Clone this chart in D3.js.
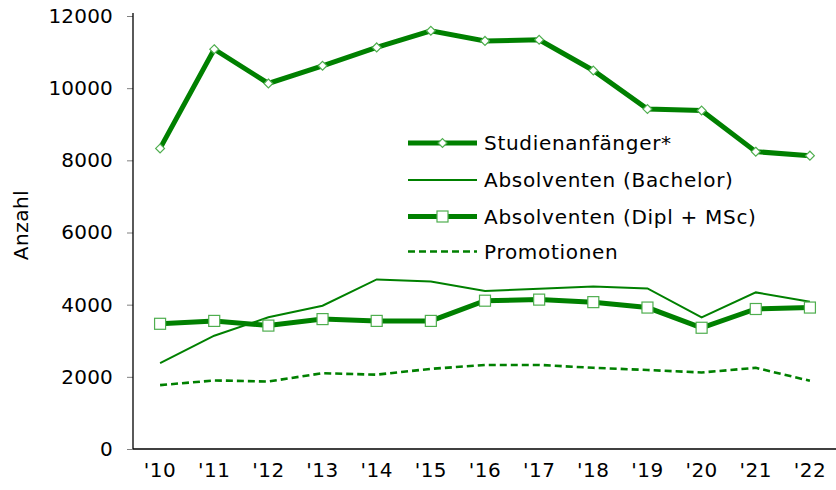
<!DOCTYPE html>
<html><head><meta charset="utf-8">
<script src="https://cdnjs.cloudflare.com/ajax/libs/d3/7.8.5/d3.min.js"></script>
<style>body{margin:0;background:#fff}svg{display:block;font-family:"DejaVu Sans",Verdana,sans-serif}</style>
</head><body><svg id="c" width="836" height="490"></svg>
<script>
const years = ["'10","'11","'12","'13","'14","'15","'16","'17","'18","'19","'20","'21","'22"];
const studienanfaenger = [8330,11080,10130,10620,11130,11590,11310,11340,10490,9420,9380,8240,8130];
const bachelor = [2380,3140,3650,3970,4700,4640,4380,4440,4500,4450,3650,4340,4080];
const diplMsc = [3470,3550,3420,3600,3550,3550,4110,4140,4070,3920,3360,3880,3920];
const promotionen = [1770,1900,1870,2100,2060,2220,2330,2330,2250,2190,2120,2250,1890];
const yTicks = [0,2000,4000,6000,8000,10000,12000];
const seriesNames = ["Studienanfänger*","Absolventen (Bachelor)","Absolventen (Dipl + MSc)","Promotionen"];

const green = "#008000", markStroke = "#4fae4f";
const svg = d3.select("#c");
const x = d3.scaleBand().domain(years).range([133, 837]);
const y = d3.scaleLinear().domain([0, 12000]).range([449, 16]);
const cx = d => x(d) + x.bandwidth()/2;

// axes
const ya = svg.append("g").attr("transform","translate(133,0)")
  .call(d3.axisLeft(y).tickValues(yTicks).tickSize(6).tickPadding(14).tickFormat(d3.format("d")));
ya.select(".domain").remove();
ya.selectAll(".tick line").attr("stroke","#808080");
ya.selectAll("text").attr("font-size",20).attr("fill","#000").attr("font-family","DejaVu Sans").attr("letter-spacing","0.2px");
svg.append("line").attr("x1",133).attr("x2",133).attr("y1",13).attr("y2",449).attr("stroke","#000").attr("stroke-width",1.3);
const xa = svg.append("g").attr("transform","translate(0,449)")
  .call(d3.axisBottom(x).tickSize(0).tickPadding(14));
xa.select(".domain").remove();
xa.selectAll("text").attr("font-size",20).attr("fill","#000").attr("font-family","DejaVu Sans").attr("letter-spacing","0.5px");
svg.append("line").attr("x1",133).attr("x2",836).attr("y1",449).attr("y2",449).attr("stroke","#000").attr("stroke-width",1.3);

svg.append("text").attr("transform","translate(28,225) rotate(-90)").attr("text-anchor","middle")
  .attr("font-size",20).attr("letter-spacing","0.5px").text("Anzahl");

const line = d3.line().x((d,i)=>cx(years[i])).y(d=>y(d));
svg.append("path").datum(promotionen).attr("d",line).attr("fill","none").attr("stroke",green).attr("stroke-width",2.6).attr("stroke-dasharray","7,4");
svg.append("path").datum(bachelor).attr("d",line).attr("fill","none").attr("stroke",green).attr("stroke-width",2);
svg.append("path").datum(diplMsc).attr("d",line).attr("fill","none").attr("stroke",green).attr("stroke-width",5);
svg.append("path").datum(studienanfaenger).attr("d",line).attr("fill","none").attr("stroke",green).attr("stroke-width",5);

const sq = 11;
svg.append("g").selectAll("rect").data(diplMsc).join("rect")
  .attr("x",(d,i)=>cx(years[i])-sq/2).attr("y",d=>y(d)-sq/2).attr("width",sq).attr("height",sq)
  .attr("fill","#fff").attr("stroke",markStroke).attr("stroke-width",1.2);
const dia = d3.symbol().type(d3.symbolDiamond2).size(50);
svg.append("g").selectAll("path").data(studienanfaenger).join("path")
  .attr("transform",(d,i)=>`translate(${cx(years[i])},${y(d)})`).attr("d",dia)
  .attr("fill","#fff").attr("stroke",markStroke).attr("stroke-width",1.2);

// legend
const lg = svg.append("g");
const rows = [143,180,216.5,251.5];
const lx1 = 408, lx2 = 477, lm = (lx1+lx2)/2;
lg.append("line").attr("x1",lx1).attr("x2",lx2).attr("y1",rows[0]).attr("y2",rows[0]).attr("stroke",green).attr("stroke-width",5);
lg.append("path").attr("transform",`translate(${lm},${rows[0]})`).attr("d",dia).attr("fill","#fff").attr("stroke",markStroke).attr("stroke-width",1.2);
lg.append("line").attr("x1",lx1).attr("x2",lx2).attr("y1",rows[1]).attr("y2",rows[1]).attr("stroke",green).attr("stroke-width",2);
lg.append("line").attr("x1",lx1).attr("x2",lx2).attr("y1",rows[2]).attr("y2",rows[2]).attr("stroke",green).attr("stroke-width",5);
lg.append("rect").attr("x",lm-sq/2).attr("y",rows[2]-sq/2).attr("width",sq).attr("height",sq).attr("fill","#fff").attr("stroke",markStroke).attr("stroke-width",1.2);
lg.append("line").attr("x1",lx1).attr("x2",lx2).attr("y1",rows[3]).attr("y2",rows[3]).attr("stroke",green).attr("stroke-width",2.6).attr("stroke-dasharray","7,4");
lg.selectAll("text").data(seriesNames).join("text").attr("x",484).attr("y",(d,i)=>rows[i]).attr("dy","0.35em")
  .attr("font-size",20).attr("letter-spacing","0.7px").attr("fill","#000").text(d=>d);
</script></body></html>
